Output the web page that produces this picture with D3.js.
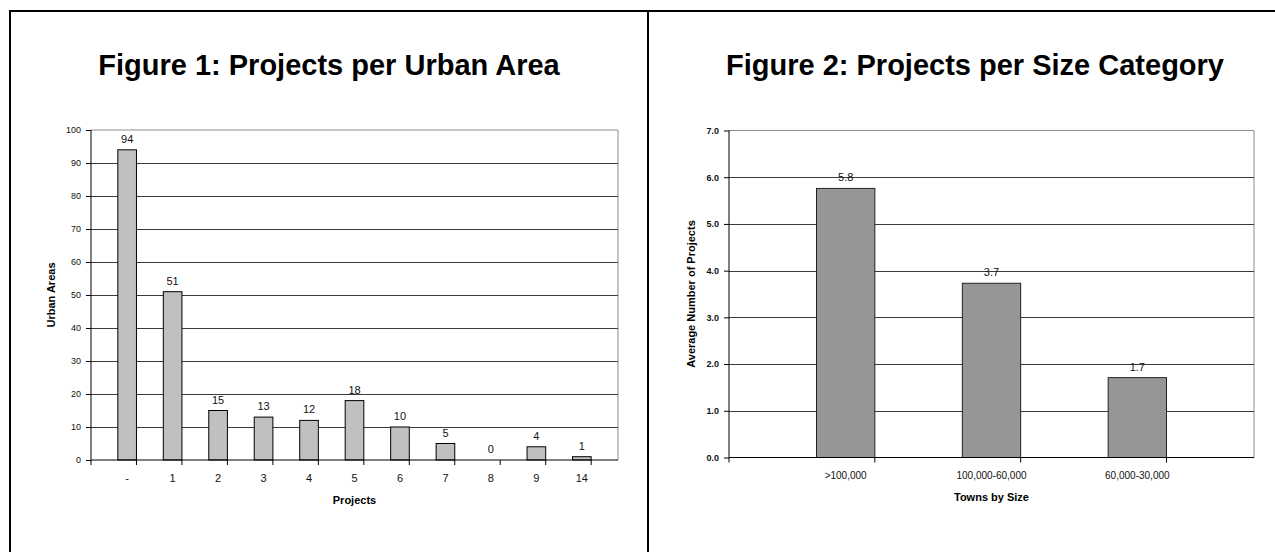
<!DOCTYPE html>
<html>
<head>
<meta charset="utf-8">
<script src="https://cdn.jsdelivr.net/npm/d3@7"></script>
<style>
  html, body { margin: 0; padding: 0; background: #fff; }
  svg { display: block; font-family: "Liberation Sans", Arial, sans-serif; }
</style>
</head>
<body>
<svg id="page" width="1275" height="552"></svg>
<script>
// Figure 1: number of urban areas by project count
const urbanCategories = ["-", "1", "2", "3", "4", "5", "6", "7", "8", "9", "14"];
const urbanAreas = [94, 51, 15, 13, 12, 18, 10, 5, 0, 4, 1];
const urbanTicks = [0, 10, 20, 30, 40, 50, 60, 70, 80, 90, 100];

// Figure 2: average projects per town size class
const sizeCategories = [">100,000", "100,000-60,000", "60,000-30,000"];
const sizeAverages = [5.76, 3.73, 1.71];
const sizeTicks = [0, 1, 2, 3, 4, 5, 6, 7];

const svg = d3.select("#page");

// page frame: top rule, left rule and the divider between the two figures
const frame = svg.append("g").attr("stroke", "#000").attr("stroke-width", 2);
frame.append("line").attr("x1", 10).attr("x2", 1275).attr("y1", 11).attr("y2", 11);
frame.append("line").attr("x1", 10).attr("x2", 10).attr("y1", 10).attr("y2", 552);
frame.append("line").attr("x1", 648).attr("x2", 648).attr("y1", 10).attr("y2", 552);

function barChart(opts) {
  const g = svg.append("g");
  const x = d3.scaleBand().domain(opts.categories).range([opts.left, opts.right]).padding(opts.padding);
  const y = d3.scaleLinear().domain([0, opts.max]).range([opts.bottom, opts.top]);

  // title
  g.append("text")
    .attr("x", opts.titleX).attr("y", 75)
    .attr("text-anchor", "middle")
    .attr("font-weight", "bold").attr("font-size", opts.titleSize)
    .text(opts.title);

  // plot area border (top and right)
  g.append("path")
    .attr("d", `M${opts.left},${opts.top}H${opts.right}V${opts.bottom}`)
    .attr("fill", "none").attr("stroke", "#8c8c8c").attr("stroke-width", 1);

  // horizontal gridlines
  g.append("g").selectAll("line")
    .data(opts.ticks.filter(t => t > 0 && t < opts.max))
    .join("line")
    .attr("x1", opts.left).attr("x2", opts.right)
    .attr("y1", d => Math.round(y(d)) + 0.5).attr("y2", d => Math.round(y(d)) + 0.5)
    .attr("stroke", "#3c3c3c").attr("stroke-width", 1);

  // bars
  g.append("g").selectAll("rect")
    .data(opts.values)
    .join("rect")
    .attr("x", (d, i) => x(opts.categories[i]))
    .attr("width", x.bandwidth())
    .attr("y", d => y(d))
    .attr("height", d => opts.bottom - y(d))
    .attr("fill", opts.fill)
    .attr("stroke", opts.stroke).attr("stroke-width", 1)
    .attr("display", d => d > 0 ? null : "none");

  // value labels
  g.append("g").selectAll("text")
    .data(opts.values)
    .join("text")
    .attr("x", (d, i) => x(opts.categories[i]) + x.bandwidth() / 2)
    .attr("y", d => y(d) - 7)
    .attr("text-anchor", "middle")
    .attr("font-size", 11).attr("fill", "#111")
    .text(d => opts.valueFormat(d));

  // y axis
  const yAxis = g.append("g")
    .attr("transform", `translate(${opts.left},0)`)
    .call(d3.axisLeft(y).tickValues(opts.ticks).tickSize(5).tickPadding(5).tickFormat(opts.tickFormat));
  yAxis.selectAll("text").attr("font-size", 9).attr("font-weight", opts.tickWeight)
    .attr("font-family", "'Liberation Sans', Arial, sans-serif").attr("fill", "#111");
  yAxis.selectAll("line, path").attr("stroke", "#000");
  yAxis.select(".domain").attr("d", `M0,${opts.bottom}V${opts.top}`);

  // x axis: ticks sit on the category boundaries
  const xAxis = g.append("g").attr("transform", `translate(0,${opts.bottom})`);
  xAxis.append("line").attr("x1", opts.left).attr("x2", opts.right).attr("stroke", "#000");
  const step = x.step();
  xAxis.selectAll("line.tick")
    .data(d3.range(opts.categories.length + 1))
    .join("line").attr("class", "tick")
    .attr("x1", i => opts.left + i * step).attr("x2", i => opts.left + i * step)
    .attr("y1", 0).attr("y2", 5).attr("stroke", "#000");
  xAxis.selectAll("text.cat")
    .data(opts.categories)
    .join("text").attr("class", "cat")
    .attr("x", d => x(d) + x.bandwidth() / 2)
    .attr("y", opts.catLabelY - opts.bottom)
    .attr("text-anchor", "middle")
    .attr("font-size", opts.catSize).attr("fill", "#111")
    .text(d => d);

  // axis titles
  g.append("text")
    .attr("x", (opts.left + opts.right) / 2).attr("y", opts.xTitleY)
    .attr("text-anchor", "middle").attr("font-weight", "bold").attr("font-size", 11)
    .text(opts.xTitle);
  g.append("text")
    .attr("transform", `translate(${opts.yTitleX},${(opts.top + opts.bottom) / 2}) rotate(-90)`)
    .attr("text-anchor", "middle").attr("font-weight", "bold").attr("font-size", 11)
    .text(opts.yTitle);
}

barChart({
  title: "Figure 1: Projects per Urban Area", titleX: 329, titleSize: 29,
  categories: urbanCategories, values: urbanAreas, ticks: urbanTicks, max: 100,
  left: 91, right: 618, top: 130, bottom: 460, padding: 0.59,
  fill: "#c0c0c0", stroke: "#000",
  valueFormat: d3.format("d"), tickFormat: d3.format("d"), tickWeight: "normal",
  catLabelY: 482, catSize: 11,
  xTitle: "Projects", xTitleY: 504,
  yTitle: "Urban Areas", yTitleX: 55
});

barChart({
  title: "Figure 2: Projects per Size Category", titleX: 975, titleSize: 29,
  categories: sizeCategories, values: sizeAverages, ticks: sizeTicks, max: 7,
  left: 729, right: 1254, top: 130.5, bottom: 457.5, padding: 0.6,
  fill: "#969696", stroke: "#222",
  valueFormat: d3.format(".1f"), tickFormat: d3.format(".1f"), tickWeight: "bold",
  catLabelY: 479, catSize: 10,
  xTitle: "Towns by Size", xTitleY: 501,
  yTitle: "Average Number of Projects", yTitleX: 695
});
</script>
</body>
</html>
